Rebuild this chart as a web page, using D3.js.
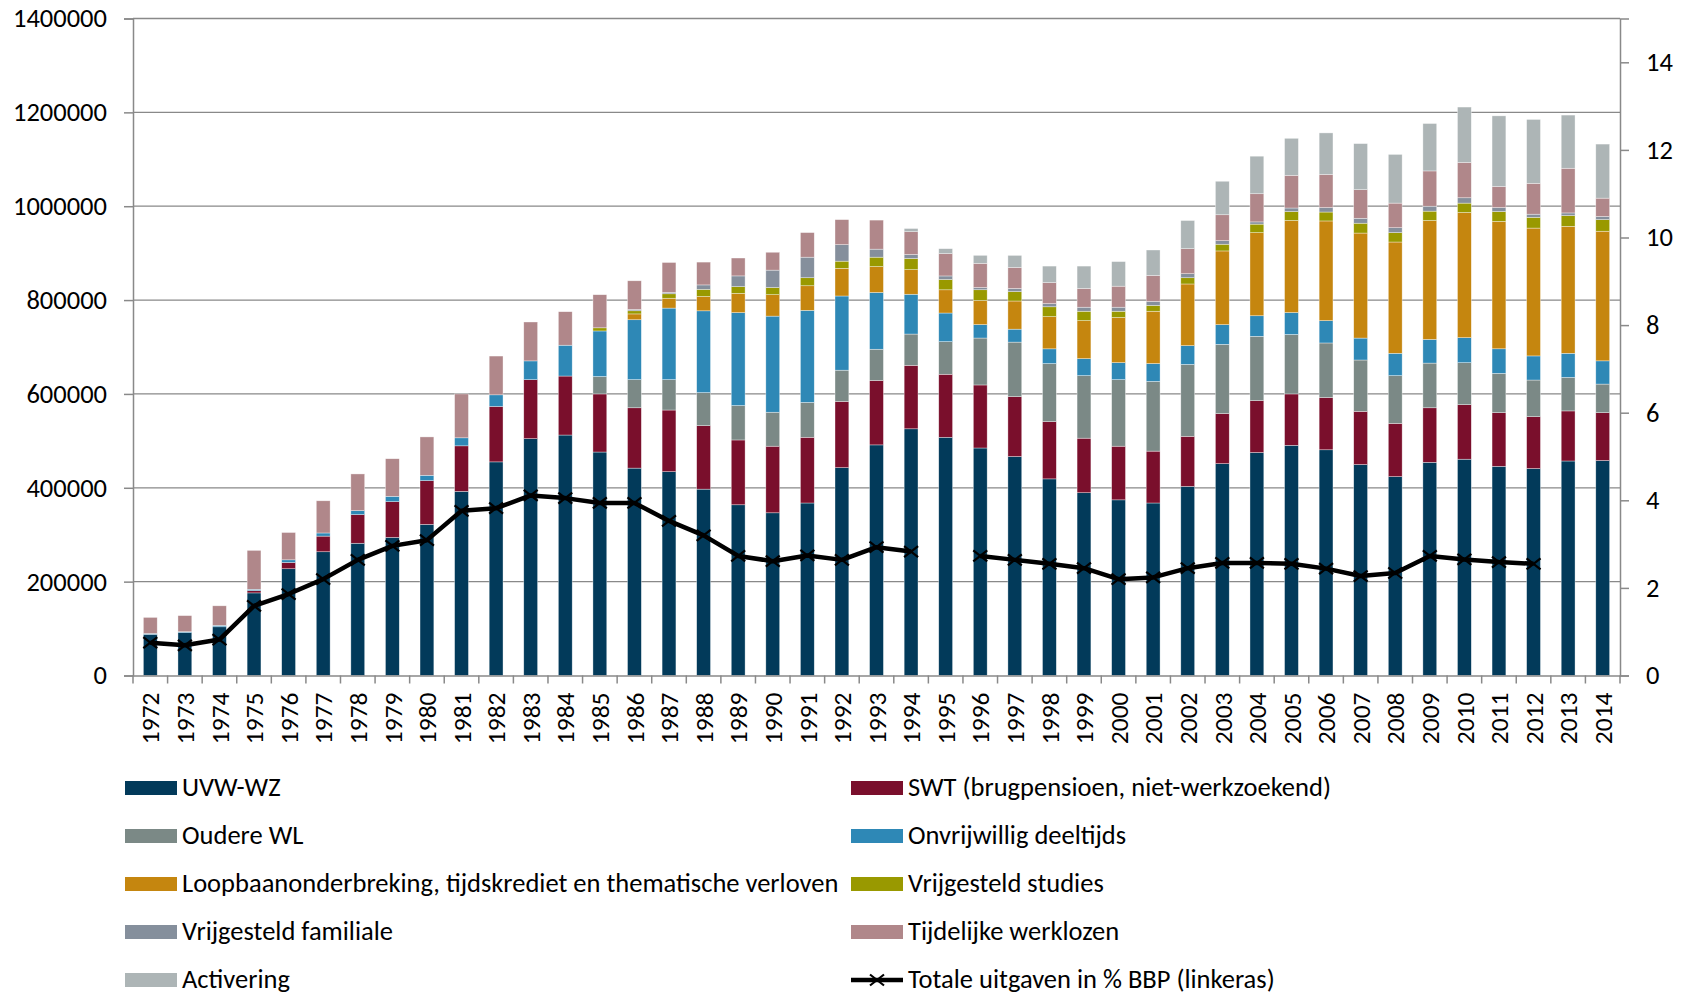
<!DOCTYPE html>
<html>
<head>
<meta charset="utf-8">
<script src="https://cdn.jsdelivr.net/npm/d3@7/dist/d3.min.js"></script>
<style>
  body { margin: 0; background: #fff; }
  text { font-family: Carlito, Lato, sans-serif; fill: #000; }
</style>
</head>
<body>
<svg id="chart" width="1686" height="995"></svg>
<script>
// categories
var years = ['1972','1973','1974','1975','1976','1977','1978','1979','1980','1981',
  '1982','1983','1984','1985','1986','1987','1988','1989','1990','1991',
  '1992','1993','1994','1995','1996','1997','1998','1999','2000','2001',
  '2002','2003','2004','2005','2006','2007','2008','2009','2010','2011',
  '2012','2013','2014'];

// stacked series (aantal personen)
var uvwWz = [87600,91400,103800,176000,227500,263700,281800,294200,321900,392300,
  455200,504700,512400,476200,441900,434300,397100,363800,346700,367600,
  442900,491400,525700,507600,484800,466600,419000,389500,374300,367600,
  402900,451400,475200,490500,481000,449500,423800,454300,460900,445700,
  441000,457100,458100];
var swt = [0,0,0,4800,13300,33300,61000,76200,93300,97100,
  118100,125700,125700,123800,128600,131400,135200,138100,141900,140000,
  141000,137100,135200,134300,134300,127600,121900,116200,114300,110500,
  106700,106700,110500,109500,111400,113300,113300,116200,116200,114300,
  110500,106700,101900];
var oudereWl = [0,0,0,0,0,0,0,0,0,0,
  0,0,0,37100,60000,64800,70500,73300,72400,74300,
  66700,66700,66700,69500,100000,116200,123800,133300,141900,148600,
  153300,147600,137100,126700,116200,109500,101900,95200,89500,83800,
  78100,71400,61000];
var onvrijwilligDeeltijds = [1900,1900,2900,2900,5700,6700,8600,11400,11400,17100,
  24800,40000,65700,97100,127600,152400,174300,198100,204800,196200,
  158100,121000,84800,61000,28600,27600,31400,36200,36200,38100,
  40000,41900,43800,46700,47600,46700,47600,50500,53300,52400,
  51400,51400,49500];
var loopbaan = [0,0,0,0,0,0,0,0,0,0,
  0,0,0,0,12400,21000,30500,41000,45700,52400,
  59000,55200,52400,49500,51400,60000,68600,81000,96200,111400,
  131400,157100,177100,196200,212400,223800,237100,253300,266700,271400,
  272400,270500,276200];
var vrijgesteldStudies = [0,0,0,0,0,0,0,0,0,0,
  0,0,0,6700,6700,9500,15200,14300,15200,17100,
  15200,20000,23800,21900,22900,20000,21000,20000,13300,12400,
  13300,14300,18100,19000,19000,21000,20000,20000,20000,21000,
  22900,22900,24800];
var vrijgesteldFamiliale = [0,0,0,0,0,0,0,0,0,0,
  0,0,0,0,2900,2900,9500,22900,37100,43800,
  35200,17100,8600,7600,4800,6700,6700,8600,8600,8600,
  8600,7600,4800,7600,9500,10500,10500,10500,11400,8600,
  6700,5700,6700];
var tijdelijkeWerklozen = [34300,34300,41800,82900,58200,68600,78100,80100,81800,93500,
  82600,82900,71400,70500,61000,63800,48600,38100,38100,52400,
  53300,61900,48600,47600,51400,44800,44800,40000,44800,55200,
  53300,55200,60000,69500,70500,61000,52400,75200,75200,44800,
  65700,95200,39000];
var activering = [0,0,0,0,0,0,0,0,0,0,
  0,0,0,0,0,0,0,0,0,0,
  0,0,6700,10500,17100,25700,35200,47600,52400,54300,
  60000,71400,80000,79000,88600,98100,103800,101000,118100,150500,
  136200,113300,115200];

// line: totale uitgaven in % BBP (null = no point)
var uitgavenBbp = [0.75,0.69,0.82,1.59,1.86,2.2,2.64,2.96,3.09,3.76,
  3.82,4.11,4.05,3.94,3.94,3.53,3.2,2.73,2.61,2.74,
  2.64,2.93,2.83,null,2.73,2.64,2.55,2.45,2.2,2.24,
  2.45,2.57,2.57,2.55,2.44,2.27,2.34,2.73,2.65,2.59,
  2.55,null,null];

var leftTicks = [0,200000,400000,600000,800000,1000000,1200000,1400000];
var rightTicks = [0,2,4,6,8,10,12,14];

var seriesNames = ['UVW-WZ','SWT (brugpensioen, niet-werkzoekend)','Oudere WL',
  'Onvrijwillig deeltijds','Loopbaanonderbreking, tijdskrediet en thematische verloven',
  'Vrijgesteld studies','Vrijgesteld familiale','Tijdelijke werklozen','Activering'];
var seriesValues = [uvwWz, swt, oudereWl, onvrijwilligDeeltijds, loopbaan,
  vrijgesteldStudies, vrijgesteldFamiliale, tijdelijkeWerklozen, activering];
var seriesColors = ['#023a5a','#7a0f2c','#7b8986','#2e88b6','#c5860f',
  '#999900','#858f9c','#b0878a','#adb5b6'];
var lineName = 'Totale uitgaven in % BBP (linkeras)';

var svg = d3.select('#chart');

// plot area
var plot = {left: 133, right: 1620, top: 18.5, bottom: 675.5};

var xScale = d3.scaleBand()
  .domain(years)
  .range([plot.left, plot.right])
  .paddingInner(0.6)
  .paddingOuter(0.3);
var yScale = d3.scaleLinear().domain([0, 1400000]).range([plot.bottom, plot.top]);
var y2Scale = d3.scaleLinear().domain([0, 15]).range([plot.bottom, plot.top]);

// build the table for d3.stack
var table = years.map(function(yr, i) {
  var row = {year: yr};
  seriesNames.forEach(function(n, k) { row[n] = seriesValues[k][i]; });
  return row;
});
var stacked = d3.stack().keys(seriesNames)(table);

// gridlines
svg.append('g')
  .selectAll('line')
  .data(leftTicks.slice(1))
  .enter().append('line')
  .attr('x1', plot.left).attr('x2', plot.right)
  .attr('y1', function(d) { return yScale(d); })
  .attr('y2', function(d) { return yScale(d); })
  .style('stroke', '#898989')
  .style('stroke-width', '1.3px');

// bars
svg.append('g')
  .selectAll('g')
  .data(stacked)
  .enter().append('g')
  .style('fill', function(d, k) { return seriesColors[k]; })
  .selectAll('rect')
  .data(function(d) { return d; })
  .enter().append('rect')
  .attr('x', function(d) { return xScale(d.data.year); })
  .attr('width', xScale.bandwidth())
  .attr('y', function(d) { return yScale(d[1]); })
  .attr('height', function(d) { return Math.max(0, yScale(d[0]) - yScale(d[1])); })
  .style('stroke', '#fff')
  .style('stroke-width', '0.6px')
  .style('stroke-opacity', 0.6);

// left axis
var yAxis = d3.axisLeft(yScale).tickValues(leftTicks)
  .tickFormat(d3.format('d')).tickSize(9).tickPadding(17);
var gy = svg.append('g')
  .attr('transform', 'translate(' + plot.left + ',0)')
  .call(yAxis);

// right axis
var y2Axis = d3.axisRight(y2Scale).tickValues(rightTicks)
  .tickFormat(d3.format('d')).tickSize(9).tickPadding(17);
var gy2 = svg.append('g')
  .attr('transform', 'translate(' + plot.right + ',0)')
  .call(y2Axis);

// bottom axis, ticks between categories
var xAxis = d3.axisBottom(xScale).tickSize(0).tickPadding(18);
var gx = svg.append('g')
  .attr('transform', 'translate(0,' + plot.bottom + ')')
  .call(xAxis);
var step = xScale.step();
gx.selectAll('.sep')
  .data(d3.range(years.length + 1))
  .enter().append('line')
  .attr('class', 'sep')
  .attr('x1', function(i) { return plot.left + i * step; })
  .attr('x2', function(i) { return plot.left + i * step; })
  .attr('y1', 0).attr('y2', 8);

[gy, gy2, gx].forEach(function(g) {
  g.select('.domain').style('stroke', '#898989').style('stroke-width', '1.5px');
  g.selectAll('line').style('stroke', '#898989').style('stroke-width', '1.5px');
  g.selectAll('text').style('font-size', '26.5px').style('font-family', 'Carlito, Lato, sans-serif').style('fill', '#000');
});

// year labels turned upright
gx.selectAll('text')
  .attr('transform', 'rotate(-90)')
  .attr('x', -17).attr('y', 0)
  .attr('dy', '0.36em')
  .style('text-anchor', 'end')
  .style('font-size', '25.5px');

// line with x markers
var line = d3.line()
  .defined(function(d) { return d != null; })
  .x(function(d, i) { return xScale(years[i]) + xScale.bandwidth() / 2; })
  .y(function(d) { return y2Scale(d); });

svg.append('path')
  .datum(uitgavenBbp)
  .attr('d', line)
  .style('fill', 'none')
  .style('stroke', '#000')
  .style('stroke-width', '4.5px')
  .style('stroke-linejoin', 'round');

function cross(g, cx, cy) {
  g.append('path')
    .attr('d', 'M' + (cx - 7) + ',' + (cy - 5.5) + 'L' + (cx + 7) + ',' + (cy + 5.5) +
      'M' + (cx - 7) + ',' + (cy + 5.5) + 'L' + (cx + 7) + ',' + (cy - 5.5))
    .style('stroke', '#000')
    .style('stroke-width', '2.2px');
}
var markers = svg.append('g');
uitgavenBbp.forEach(function(v, i) {
  if (v == null) return;
  cross(markers, xScale(years[i]) + xScale.bandwidth() / 2, y2Scale(v));
});

// legend, two columns
var legendItems = seriesNames.map(function(n, k) { return {name: n, color: seriesColors[k]}; });
legendItems.push({name: lineName, line: true});
var legend = svg.append('g');
legendItems.forEach(function(d, k) {
  var col = k % 2, row = Math.floor(k / 2);
  var x = col === 0 ? 125 : 851;
  var cy = 788 + row * 48;
  var g = legend.append('g');
  if (d.line) {
    g.append('line')
      .attr('x1', x).attr('x2', x + 52)
      .attr('y1', cy).attr('y2', cy)
      .style('stroke', '#000').style('stroke-width', '4.5px');
    cross(g, x + 26, cy);
  } else {
    g.append('rect')
      .attr('x', x).attr('y', cy - 7)
      .attr('width', 52).attr('height', 14)
      .style('fill', d.color);
  }
  g.append('text')
    .attr('x', x + 57).attr('y', cy)
    .attr('dy', '0.3em')
    .style('font-size', '26.5px')
    .text(d.name);
});
</script>
</body>
</html>
